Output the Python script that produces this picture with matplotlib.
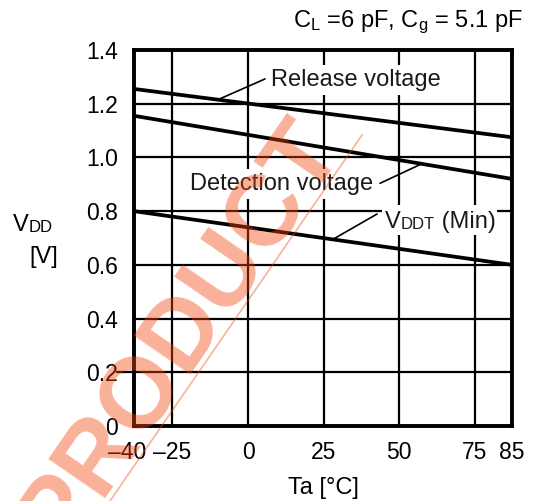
import numpy as np
import matplotlib
matplotlib.use("Agg")
import matplotlib.pyplot as plt
from matplotlib.lines import Line2D
from matplotlib.patches import Rectangle
from matplotlib.transforms import ScaledTranslation

plt.rcParams['font.family'] = ['Liberation Sans', 'DejaVu Sans']
plt.rcParams['mathtext.fontset'] = 'custom'
plt.rcParams['mathtext.rm'] = 'Liberation Sans'
plt.rcParams['mathtext.default'] = 'regular'

# ---------------- data ----------------
temps = [-40, 85]
release_v = [1.255, 1.075]
detect_v = [1.155, 0.92]
vddt_min = [0.80, 0.60]

x_ticks = [-40, -25, 0, 25, 50, 75, 85]
x_tick_labels = ['–40', '–25', '0', '25', '50', '75', '85']
# drawn (non-uniform) spacing of the x ticks on the original chart
x_tick_spacing = [0, 38.3, 114.3, 189.8, 265.3, 341, 378]
y_ticks = [0, 0.2, 0.4, 0.6, 0.8, 1.0, 1.2, 1.4]
y_tick_labels = ['0', '0.2', '0.4', '0.6', '0.8', '1.0', '1.2', '1.4']

W, H = 535, 501
fig = plt.figure(figsize=(W / 100, H / 100), dpi=100)
ax = fig.add_axes([134 / W, 1 - 426 / H, 378 / W, 376 / H])


def fwd(x):
    return np.interp(x, x_ticks, x_tick_spacing)


def inv(p):
    return np.interp(p, x_tick_spacing, x_ticks)


ax.set_xscale('function', functions=(fwd, inv))
ax.set_xlim(-40, 85)
ax.set_ylim(0, 1.4)
ax.set_xticks(x_ticks, x_tick_labels)
ax.set_yticks(y_ticks, y_tick_labels)
ax.tick_params(length=0, labelsize=16.5, colors='black')
ax.tick_params(axis='x', pad=11)
ax.tick_params(axis='y', pad=11.5)
ax.set_axisbelow(True)
ax.grid(True, color='black', lw=1.6)
for s in ax.spines.values():
    s.set_linewidth(2.8)
    s.set_zorder(2.5)

# small gridline stub through the 0.2 label
ax.plot([-0.045, 0], [0.2, 0.2], transform=ax.get_yaxis_transform(),
        color='black', lw=1.6, clip_on=False)

lw = 2.7
ax.plot(temps, release_v, color='black', lw=lw, solid_capstyle='butt', zorder=2)
ax.plot(temps, detect_v, color='black', lw=lw, solid_capstyle='butt', zorder=2)
ax.plot(temps, vddt_min, color='black', lw=lw, solid_capstyle='butt', zorder=2)

# shift the -40 label a bit left as in the original
lab0 = ax.xaxis.get_major_ticks()[0].label1
lab0.set_transform(lab0.get_transform() + ScaledTranslation(-7 / 100, 0, fig.dpi_scale_trans))

LS = 17
TC = '#1a1a1a'
box = dict(facecolor='white', edgecolor='none', pad=3)


def on_line(vals, f):
    return vals[0] + (vals[1] - vals[0]) * f


def leader(vals, f, txy):
    ax.annotate('', xy=(f, on_line(vals, f)), xycoords=('axes fraction', 'data'),
                xytext=txy, textcoords='axes fraction',
                arrowprops=dict(arrowstyle='-', lw=1.2, color='black',
                                shrinkA=0, shrinkB=0), zorder=3)


# Release voltage
ax.text(0.3624, 0.9043, 'Release voltage', transform=ax.transAxes, fontsize=LS,
        ha='left', va='baseline', bbox=box, zorder=4, color=TC)
leader(release_v, 0.222, (0.3466, 0.923))

# Detection voltage
ax.text(0.148, 0.6277, 'Detection voltage', transform=ax.transAxes, fontsize=LS,
        ha='left', va='baseline', bbox=box, zorder=4, color=TC)
leader(detect_v, 0.761, (0.651, 0.6455))

# VDDT (Min): white background patch, then the pieces on top
ax.add_patch(Rectangle((0.655, 0.508), 0.305, 0.08, transform=ax.transAxes,
                       facecolor='white', edgecolor='none', zorder=3.5))
t1 = ax.text(0.664, 0.5266, 'V', transform=ax.transAxes, fontsize=LS,
             ha='left', va='baseline', zorder=4, color=TC)
t2 = ax.annotate('DDT', xy=(1, 0), xycoords=t1, xytext=(0, 1.0),
                 textcoords='offset points', fontsize=12, ha='left', va='bottom',
                 zorder=4, color=TC)
t3 = ax.annotate(' (Min)', xy=(1, 0), xycoords=t2, xytext=(0, -1.0),
                 textcoords='offset points', fontsize=LS, ha='left', va='bottom',
                 zorder=4, color=TC)
leader(vddt_min, 0.526, (0.643, 0.5638))

# axis labels
v1 = fig.text(13 / W, 1 - 231 / H, 'V', fontsize=LS, ha='left', va='baseline')
ax.annotate('DD', xy=(1, 0), xycoords=v1, xytext=(0, 1.0), textcoords='offset points',
            fontsize=12, ha='left', va='bottom', annotation_clip=False)
fig.text(29 / W, 1 - 263 / H, '[V]', fontsize=LS, ha='left', va='baseline')
fig.text(323 / W, 1 - 494 / H, 'Ta [°C]', fontsize=LS, ha='center', va='baseline')

# condition title
fig.text(523 / W, 1 - 27 / H, r'C$_{L}$ =6 pF, C$_{g}$ = 5.1 pF', fontsize=LS,
         ha='right', va='baseline')

# watermark
wm_color = '#F5440A'
fig.add_artist(Line2D([101 / W, 362 / W], [1 - 514 / H, 1 - 135 / H],
                      transform=fig.transFigure, color=wm_color, alpha=0.42, lw=1.2,
                      zorder=10))
fig.text(61 / W, 1 - 552 / H, 'PRODUCT', fontsize=72, fontweight='bold',
         rotation=55.4, rotation_mode='anchor', ha='left', va='baseline',
         color=wm_color, alpha=0.42, zorder=10)

fig.savefig('out.png', dpi=100)
